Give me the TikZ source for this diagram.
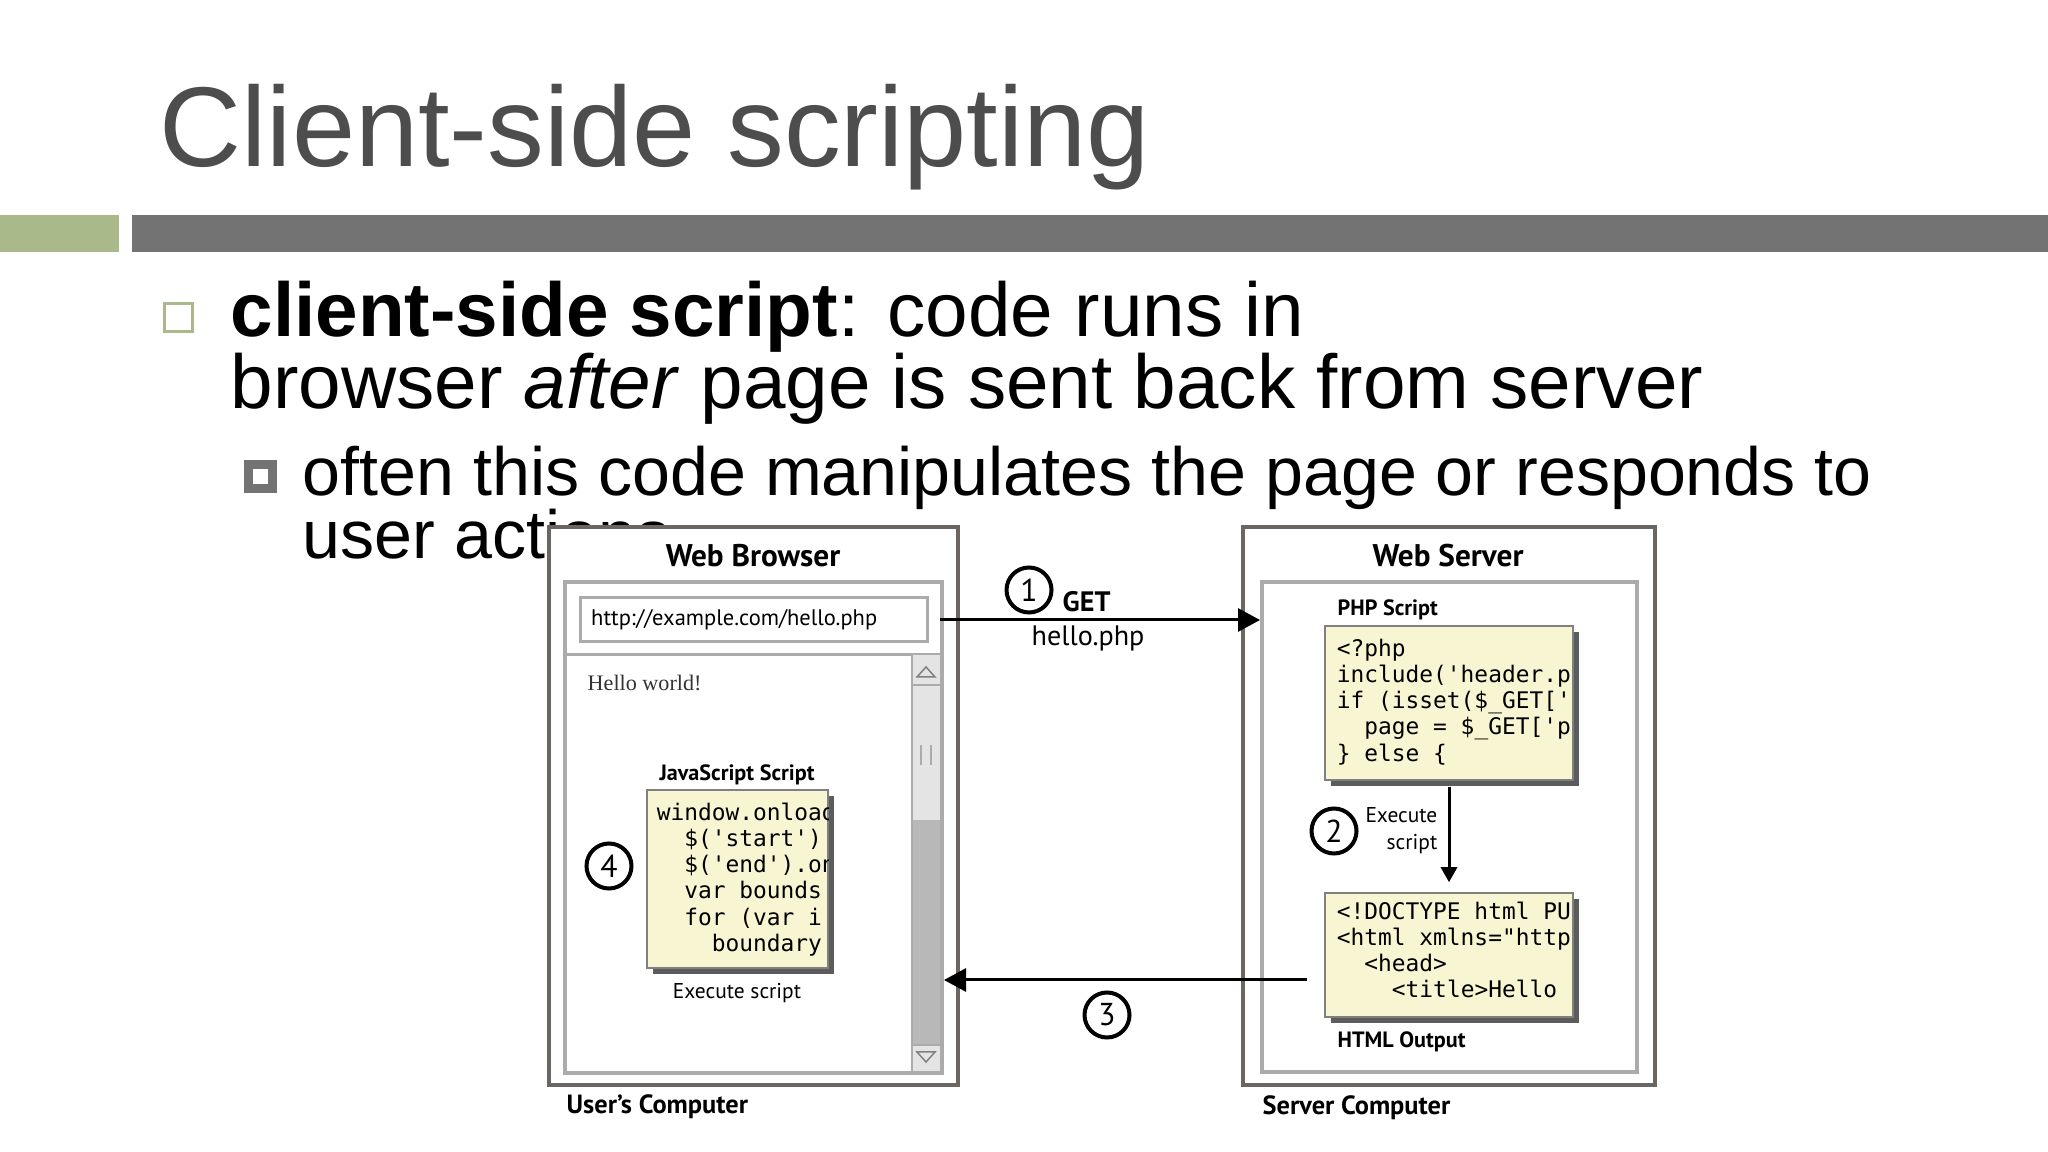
\documentclass[tikz,border=0pt]{standalone}
\usepackage{fontspec}
\setmainfont{Liberation Sans}
\newfontfamily\figfont{PT Sans}
\newfontfamily\codefont{DejaVu Sans Mono}
\newfontfamily\pagefont{Liberation Serif}
\usetikzlibrary{positioning,arrows.meta,shadows}
\definecolor{titlegray}{HTML}{4D4D4D}
\definecolor{bargray}{HTML}{737373}
\definecolor{bargreen}{HTML}{A9B98A}
\definecolor{framedark}{HTML}{6B6661}
\definecolor{framelight}{HTML}{ABABAB}
\definecolor{notefill}{HTML}{F8F6D2}
\definecolor{shadowgray}{HTML}{5C5C5C}
\definecolor{scrolllight}{HTML}{E4E4E4}
\definecolor{scrolldark}{HTML}{B8B8B8}

\begin{document}
\begin{tikzpicture}[x=0.1mm, y=-0.1mm,
  slide/.style={anchor=base west, inner sep=0pt},
  outerframe/.style={draw=framedark, line width=0.4mm, fill=white},
  innerframe/.style={draw=framelight, line width=0.4mm},
  frametitle/.style={inner sep=0pt, font=\figfont\bfseries\fontsize{8.9pt}{10pt}\selectfont},
  caption/.style={anchor=west, inner sep=0pt, font=\figfont\bfseries\fontsize{6.3pt}{7.5pt}\selectfont},
  remark/.style={inner sep=0pt, font=\figfont\fontsize{6.1pt}{7.7pt}\selectfont},
  note/.style={draw=gray, line width=0.15mm, fill=notefill,
    drop shadow={shadow xshift=0.6mm, shadow yshift=-0.6mm, fill=shadowgray, opacity=1}},
  codetext/.style={anchor=north west, inner sep=0pt, align=left, font=\codefont\fontsize{6.5pt}{7.45pt}\selectfont},
  stepnum/.style={circle, draw, line width=0.4mm, minimum size=4.5mm, inner sep=0pt, font=\figfont\fontsize{9pt}{10pt}\selectfont},
  flow/.style={->, line width=0.3mm},
  >={Triangle[length=2.2mm, width=2.3mm]}
]
\useasboundingbox (0,0) rectangle (2048,1152);

% heading and bars
\node[slide, text=titlegray, font=\fontsize{32.3pt}{36pt}\selectfont] (title) at (159,167) {Client-side scripting};
\fill[bargreen] (0,215) rectangle (119,252);
\fill[bargray] (132,215) rectangle (2048,252);

% bullet points
\draw[bargreen, line width=0.3mm] (164,304) rectangle (192,332);
\node[slide, font=\fontsize{21.75pt}{26pt}\selectfont] (point) at (230,337) {\textbf{client-side script}: code runs in};
\node[slide, font=\fontsize{21.75pt}{26pt}\selectfont] (pointmore) at (230,409) {browser \textit{after} page is sent back from server};
\fill[bargray] (244,460) rectangle (277,493);
\fill[white] (253,469) rectangle (268,484);
\node[slide, font=\fontsize{19.4pt}{23pt}\selectfont] (sub) at (302,496) {often this code manipulates the page or responds to};
\node[slide, font=\fontsize{19.4pt}{23pt}\selectfont] (submore) at (302,559) {user actions};

% diagram sits on top of the text
\fill[white] (546,526) rectangle (1662,1135);

% browser side
\node[outerframe, minimum width=40.9mm, minimum height=55.8mm] (browser) at (753.5,806) {};
\node[innerframe, minimum width=37.7mm, minimum height=49.1mm] (window) at (753.5,827.5) {};
\node[frametitle] (browsertitle) at (753,556) {Web Browser};
\node[draw=framelight, line width=0.3mm, minimum width=34.7mm, minimum height=4.4mm] (url) at (753.5,620) {};
\node[anchor=west, inner sep=0pt, font=\figfont\fontsize{6.4pt}{8pt}\selectfont] (urltext) at ([xshift=1.2mm]url.west) {http://example.com/hello.php};
\draw[framelight, line width=0.3mm] (565,655) -- (940,655);
% scrollbar
\fill[scrolllight] (912,655) rectangle (940,820);
\fill[scrolldark] (912,820) rectangle (940,1045);
\fill[scrolllight] (912,1045) rectangle (940,1071);
\draw[framelight, line width=0.2mm] (912,655) -- (912,1071) (912,685) -- (940,685) (912,1045) -- (940,1045);
\draw[gray, line width=0.15mm] (917,677) -- (926,667) -- (935,677) -- cycle;
\draw[gray, line width=0.15mm] (917,1052) -- (926,1062) -- (935,1052) -- cycle;
\draw[framelight, line width=0.25mm] (921,745) -- (921,765) (931,745) -- (931,765);

\node[anchor=west, inner sep=0pt, text=black!80, font=\pagefont\fontsize{6.3pt}{8pt}\selectfont] (hello) at (587,683) {Hello world!};
\node[caption, anchor=center] (jslabel) at (737,775) {JavaScript Script};
\node[note, minimum width=18.1mm, minimum height=17.8mm] (jsbox) at (737.5,879) {};
\begin{scope}
\clip (jsbox.south west) rectangle (jsbox.north east);
\node[codetext] (jscode) at ([xshift=1mm, yshift=-1.3mm]jsbox.north west)
  {window.onload\\\phantom{00}\$('start')\\\phantom{00}\$('end').on\\\phantom{00}var bounds\\\phantom{00}for (var i\\\phantom{0000}boundary};
\end{scope}
\node[remark] (jsrun) at (737,993) {Execute script};
\node[stepnum] (four) at (609,866) {4};
\node[caption, font=\figfont\bfseries\fontsize{7.5pt}{9pt}\selectfont] (usercomp) at (566,1107) {User’s Computer};

% server side
\node[outerframe, minimum width=41.2mm, minimum height=55.8mm] (server) at (1449,806) {};
\node[innerframe, minimum width=37.5mm, minimum height=49mm] (srvwindow) at (1449.5,827) {};
\node[frametitle] (servertitle) at (1448,556) {Web Server};
\node[caption] (phplabel) at (1337,610) {PHP Script};
\node[note, minimum width=24.8mm, minimum height=15.4mm] (phpbox) at (1449,703) {};
\begin{scope}
\clip (phpbox.south west) rectangle (phpbox.north east);
\node[codetext] (phpcode) at ([xshift=1.2mm, yshift=-1.3mm]phpbox.north west)
  {<?php\\include('header.p\\if (isset(\$\_GET['\\\phantom{00}page = \$\_GET['p\\\} else \{};
\end{scope}
\node[note, minimum width=24.8mm, minimum height=12.4mm] (htmlbox) at (1449,955) {};
\begin{scope}
\clip (htmlbox.south west) rectangle (htmlbox.north east);
\node[codetext] (htmlcode) at ([xshift=1.2mm, yshift=-0.9mm]htmlbox.north west)
  {<!DOCTYPE html PU\\<html xmlns="http\\\phantom{00}<head>\\\phantom{0000}<title>Hello};
\end{scope}
\node[caption] (htmllabel) at (1337,1042) {HTML Output};
\node[caption, font=\figfont\bfseries\fontsize{7.5pt}{9pt}\selectfont] (servercomp) at (1262,1108) {Server Computer};

% request, execution, response
\draw[flow] ([xshift=1.1mm]url.east) -- (url.east -| srvwindow.west);
\node[stepnum] (one) at (1029,590) {1};
\node[anchor=west, inner sep=0pt, font=\figfont\bfseries\fontsize{8pt}{10pt}\selectfont] (get) at (1062,602) {GET};
\node[inner sep=0pt, font=\figfont\fontsize{8pt}{10pt}\selectfont] (getfile) at (1088,638) {hello.php};

\draw[->, line width=0.3mm, >={Triangle[length=1.5mm, width=1.6mm]}, shorten <=0.6mm, shorten >=1mm] (phpbox.south) -- (htmlbox.north);
\node[stepnum] (two) at (1334,831) {2};
\node[remark, anchor=east, align=right] (phprun) at (1438,831) {Execute\\script};

\draw[flow] ([xshift=-1.7mm, yshift=-2.5mm]htmlbox.west) -- ([yshift=-2.5mm]htmlbox.west -| window.east);
\node[stepnum] (three) at (1107,1015) {3};
\end{tikzpicture}
\end{document}
